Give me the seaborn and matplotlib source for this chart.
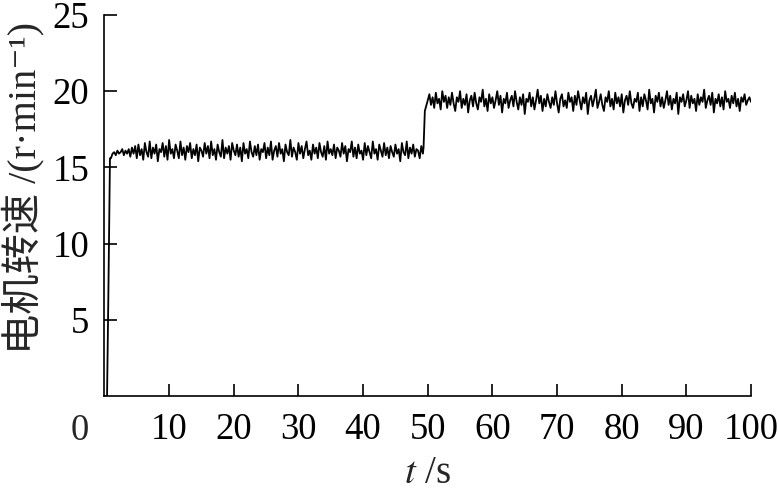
import numpy as np
import pandas as pd
import matplotlib
matplotlib.use("Agg")
import matplotlib.pyplot as plt
import seaborn as sns

# start-up transient
start_t = [0.0, 0.4, 0.6, 0.85]
start_v = [0.0, 0.0, 6.5, 15.6]

# first speed level, sampled every 0.25 s from t = 1.0 s
low_t0 = 1.0
low_v = [
    15.6, 15.9, 16.0, 15.8, 16.1, 15.9, 16.0, 16.2, 15.8, 16.1, 15.9, 16.2, 15.7, 16.3, 15.9, 16.4,
    15.6, 16.5, 15.8, 16.2, 15.5, 16.6, 16.0, 15.7, 16.7, 15.6, 16.3, 15.9, 16.5, 15.4, 16.2, 16.0,
    16.6, 15.7, 16.4, 15.5, 16.8, 15.9, 16.2, 15.6, 16.5, 16.1, 15.6, 16.7, 15.8, 16.3, 15.5, 16.4,
    16.0, 16.6, 15.6, 16.2, 15.8, 16.5, 15.4, 16.3, 16.1, 15.7, 16.6, 15.9, 16.4, 15.6, 16.7, 15.8,
    16.2, 15.5, 16.5, 16.0, 15.7, 16.8, 15.6, 16.3, 15.9, 16.4, 15.5, 16.6, 16.1, 15.8, 16.5, 15.7,
    16.3, 15.4, 16.6, 15.9, 16.2, 15.6, 16.7, 16.0, 15.7, 16.4, 15.8, 16.5, 15.5, 16.2, 16.0, 16.6,
    15.6, 16.3, 15.8, 16.7, 15.5, 16.1, 16.4, 15.7, 16.6, 15.9, 16.2, 15.4, 16.5, 16.0, 15.8, 16.8,
    15.7, 16.3, 16.0, 15.5, 16.6, 15.9, 16.4, 15.6, 16.2, 16.7, 15.8, 16.1, 15.5, 16.5, 15.9, 16.3,
    15.6, 16.6, 16.0, 15.7, 16.4, 15.5, 16.7, 15.9, 16.2, 15.8, 16.5, 15.6, 16.3, 16.1, 15.7, 16.6,
    15.9, 16.4, 15.4, 16.2, 16.0, 16.7, 15.7, 16.3, 15.6, 16.5, 15.9, 16.1, 15.5, 16.6, 15.8, 16.4,
    16.0, 15.6, 16.7, 15.9, 16.2, 15.5, 16.5, 16.1, 15.7, 16.6, 15.8, 16.3, 15.6, 16.4, 16.0, 15.7,
    16.5, 15.9, 16.2, 15.4, 16.6, 16.0, 15.8, 16.7, 15.6, 16.3, 15.9, 16.5, 15.7, 16.2, 16.1, 15.6,
    16.4, 15.9,
]

# step to the second level
step_t = [49.35, 49.55]
step_v = [16.3, 18.7]

# second speed level, sampled every 0.25 s from t = 49.75 s
high_t0 = 49.75
high_v = [
    19.0, 19.4, 19.8, 19.1, 19.6, 18.9, 19.9, 19.2, 19.5, 18.8, 20.0, 19.3, 19.7, 18.9, 19.6, 19.1,
    19.9, 19.2, 18.7, 19.6, 19.3, 20.0, 18.9, 19.5, 19.1, 19.8, 18.6, 19.4, 19.7, 19.0, 19.9, 19.2,
    18.8, 19.6, 19.3, 20.1, 19.0, 19.5, 18.7, 19.8, 19.2, 19.6, 18.9, 19.4, 20.0, 19.1, 19.7, 18.6,
    19.5, 19.2, 19.9, 18.9, 19.4, 19.7, 19.0, 20.0, 19.3, 18.8, 19.6, 19.1, 19.8, 18.5, 19.5, 19.3,
    19.9, 19.0, 19.6, 18.8, 19.4, 20.1, 19.2, 19.7, 18.7, 19.5, 19.0, 19.8, 19.3, 18.9, 19.6, 19.1,
    20.0, 19.2, 18.6, 19.5, 19.8, 19.0, 19.4, 18.9, 19.9, 19.3, 19.6, 18.7, 19.7, 19.1, 20.0, 19.4,
    18.8, 19.6, 19.2, 19.9, 18.5, 19.4, 19.7, 19.0, 19.5, 20.1, 18.9, 19.3, 19.8, 19.1, 18.7, 19.6,
    19.3, 20.0, 19.0, 19.5, 18.8, 19.9, 19.2, 19.6, 19.0, 19.8, 18.6, 19.4, 19.7, 19.1, 20.0, 19.2,
    18.9, 19.5, 19.3, 19.9, 18.7, 19.6, 19.0, 19.8, 19.4, 18.8, 20.1, 19.2, 19.5, 18.6, 19.7, 19.3,
    19.9, 19.0, 19.6, 18.9, 19.4, 20.0, 19.1, 19.7, 18.8, 19.5, 19.2, 19.9, 18.5, 19.6, 19.3, 19.8,
    19.0, 19.4, 20.0, 18.9, 19.7, 19.2, 19.5, 18.7, 19.8, 19.1, 19.6, 19.3, 20.1, 18.9, 19.4, 19.7,
    19.1, 19.9, 18.6, 19.5, 19.2, 19.8, 19.0, 19.6, 18.8, 20.0, 19.3, 19.5, 18.9, 19.7, 19.2, 19.9,
    19.0, 19.5, 18.7, 19.6, 19.3, 19.8, 19.1, 19.4, 19.6, 19.3,
]
dt = 0.25

x_ticks = [10, 20, 30, 40, 50, 60, 70, 80, 90, 100]
y_ticks = [5, 10, 15, 20, 25]

low_t = low_t0 + dt * np.arange(len(low_v))
high_t = high_t0 + dt * np.arange(len(high_v))

df = pd.DataFrame({
    "t": np.concatenate([start_t, low_t, step_t, high_t]),
    "v": np.concatenate([start_v, low_v, step_v, high_v]),
})

sns.set_style("ticks")
plt.rcParams["font.family"] = ["Liberation Serif", "DejaVu Serif", "Noto Sans CJK SC"]
plt.rcParams["mathtext.fontset"] = "stix"

fig = plt.figure(figsize=(7.79, 4.91), dpi=100)
ax = fig.add_axes([0.1341, 0.1935, 0.8300, 0.7760])

sns.lineplot(data=df, x="t", y="v", sort=False, estimator=None,
             color="black", linewidth=1.3, ax=ax)

ax.set_xlim(0, 100)
ax.set_ylim(0, 25)
ax.set_xticks(x_ticks)
ax.set_yticks(y_ticks)
ax.tick_params(axis="both", direction="in", length=9, width=1.2,
               labelsize=26.5, colors="black")
ax.tick_params(axis="x", pad=12)
ax.tick_params(axis="y", pad=11)
for s in ["top", "right"]:
    ax.spines[s].set_visible(False)
for s in ["left", "bottom"]:
    ax.spines[s].set_linewidth(1.2)
    ax.spines[s].set_color("black")

# shared origin label
ax.text(-0.038, -0.045, "0", transform=ax.transAxes, ha="center", va="top",
        fontsize=26.5)

ax.set_xlabel("$t$ /s", fontsize=28)
ax.set_ylabel("电机转速 /(r·min⁻¹)", fontsize=29)
ax.xaxis.set_label_coords(0.5, -0.155)
ax.yaxis.set_label_coords(-0.093, 0.545)

fig.savefig("out.png", dpi=100)
